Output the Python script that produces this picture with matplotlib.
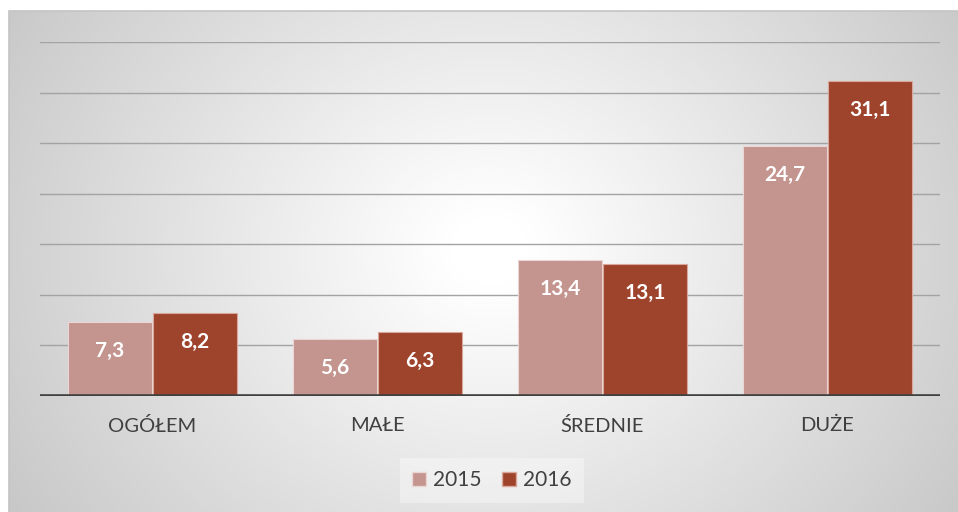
import numpy as np
import matplotlib
matplotlib.use("Agg")
import matplotlib.pyplot as plt
from matplotlib.patches import Patch, Rectangle

plt.rcParams['font.family'] = ['Lato', 'DejaVu Sans']

categories = ['OGÓŁEM', 'MAŁE', 'ŚREDNIE', 'DUŻE']
series_names = ['2015', '2016']
v2015 = [7.3, 5.6, 13.4, 24.7]
v2016 = [8.2, 6.3, 13.1, 31.1]
labels2015 = ['7,3', '5,6', '13,4', '24,7']
labels2016 = ['8,2', '6,3', '13,1', '31,1']

c2015 = '#c4948f'
c2016 = '#9e432c'
text_col = '#404040'

W, H = 958, 512
fig = plt.figure(figsize=(W / 100, H / 100), dpi=100)

# radial grey background of the chart box
bx0, by0 = 9, 11
bg = fig.add_axes([bx0 / W, 0, (W - bx0) / W, (H - by0) / H])
yy, xx = np.mgrid[by0:H, bx0:W]
r = np.hypot(xx - 490, (yy - 250) * 1.15)
shade = np.clip(1.0 - np.clip(r - 40, 0, None) * 0.105 / 255, 0.76, 1.0)
img = np.dstack([shade] * 3)
bg.imshow(img, aspect='auto', extent=[0, 1, 0, 1], origin='upper')
bg.set_axis_off()
fig.add_artist(Rectangle((bx0 / W, -0.01), (W - bx0) / W + 0.01, (H - by0) / H + 0.01,
                         transform=fig.transFigure, fill=False,
                         edgecolor='#c4c4c4', linewidth=1.2))

# plot area
ax = fig.add_axes([40 / W, (H - 396) / H, 900 / W, (396 - 42) / H])
ax.patch.set_alpha(0)
ax.set_ylim(0, 35)
ax.set_xlim(-0.5, 3.5)

x = np.arange(len(categories))
bw = 0.375
b1 = ax.bar(x - bw / 2 - 0.002, v2015, bw, color=c2015,
            edgecolor='#ead6d2', linewidth=0.8, zorder=3)
b2 = ax.bar(x + bw / 2 + 0.002, v2016, bw, color=c2016,
            edgecolor='#d9a89a', linewidth=0.8, zorder=3)

for bars, labs in ((b1, labels2015), (b2, labels2016)):
    for rect, lab in zip(bars, labs):
        ax.annotate(lab, (rect.get_x() + rect.get_width() / 2, rect.get_height()),
                    xytext=(0, -29), textcoords='offset pixels',
                    ha='center', va='center', color='white',
                    fontsize=15, fontweight='bold', zorder=4)

for g in range(5, 36, 5):
    ax.axhline(g, color='#a3a3a3', linewidth=1, zorder=1)
ax.axhline(0, color='#404040', linewidth=2.6, zorder=5)

for s in ax.spines.values():
    s.set_visible(False)
ax.set_yticks([])
ax.set_xticks(x)
ax.set_xticklabels(categories, fontsize=14.5, color=text_col)
ax.tick_params(axis='x', length=0, pad=15)

handles = [Patch(facecolor=c2015, edgecolor='#ead6d2'),
           Patch(facecolor=c2016, edgecolor='#d9a89a')]
leg = fig.legend(handles, series_names, loc='center', bbox_to_anchor=(492 / W, 1 - 480 / H),
                 ncol=2, frameon=True, fontsize=15, handlelength=0.65, handleheight=0.65,
                 handletextpad=0.35, columnspacing=1.0, borderpad=0.6)
leg.get_frame().set_facecolor('#ffffff')
leg.get_frame().set_alpha(0.35)
leg.get_frame().set_edgecolor('none')
leg.get_frame().set_boxstyle('square', pad=0)
for t in leg.get_texts():
    t.set_color(text_col)

fig.savefig('out.png', dpi=100, facecolor='white')
